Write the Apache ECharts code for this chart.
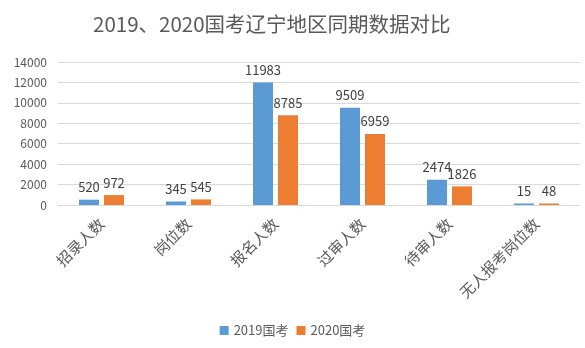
<!DOCTYPE html>
<html><head><meta charset="utf-8">
<script src="https://cdn.jsdelivr.net/npm/echarts@6/dist/echarts.min.js"></script>
<style>html,body{margin:0;padding:0;background:#fff}#c{width:585px;height:348px}</style>
</head><body><div id="c"></div>
<script>
const categories = ['招录人数','岗位数','报名人数','过审人数','待审人数','无人报考岗位数'];
const series2019 = [520, 345, 11983, 9509, 2474, 15];
const series2020 = [972, 545, 8785, 6959, 1826, 48];
const seriesNames = ['2019国考','2020国考'];
const yTicks = {min:0, max:14000, interval:2000};
const font = '"Noto Sans CJK SC", "Noto Sans", sans-serif';
const chart = echarts.init(document.getElementById('c'), null, {renderer:'canvas'});
chart.setOption({
  animation:false,
  textStyle:{fontFamily:font},
  title:{text:'2019、2020国考辽宁地区同期数据对比', left:88, top:9,
    textStyle:{fontSize:20.5, fontWeight:'normal', color:'#595959', fontFamily:font}},
  legend:{bottom:6, left:'center', itemWidth:9, itemHeight:9, itemGap:8, icon:'rect',
    textStyle:{fontSize:13, color:'#595959', fontFamily:font}, data:seriesNames},
  grid:{left:58, right:5, top:62, bottom:143, containLabel:false},
  xAxis:{type:'category', data:categories,
    axisLine:{lineStyle:{color:'#d9d9d9'}}, axisTick:{show:false},
    axisLabel:{rotate:45, interval:0, fontSize:15, color:'#595959', margin:16, fontFamily:font}},
  yAxis:{type:'value', min:yTicks.min, max:yTicks.max, interval:yTicks.interval,
    axisLine:{show:false}, axisTick:{show:false},
    axisLabel:{fontSize:12, color:'#595959', margin:11, formatter:v=>String(v)},
    splitLine:{lineStyle:{color:'#d9d9d9'}}},
  series:[
    {name:seriesNames[0], type:'bar', data:series2019, barWidth:20, barGap:'25%', barMinHeight:1.5,
     itemStyle:{color:'#5b9bd5'},
     label:{show:true, position:'top', fontSize:13, color:'#404040', distance:6}},
    {name:seriesNames[1], type:'bar', data:series2020, barWidth:20, barMinHeight:1.5,
     itemStyle:{color:'#ed7d31'},
     label:{show:true, position:'top', fontSize:13, color:'#404040', distance:6}}
  ]
});
</script></body></html>
